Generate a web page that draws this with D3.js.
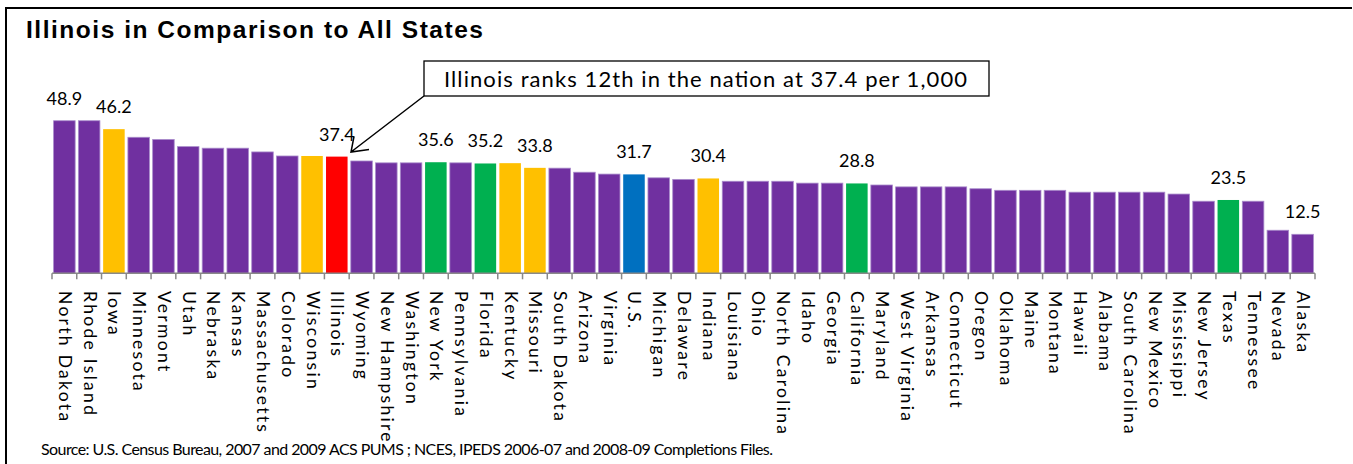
<!DOCTYPE html>
<html>
<head>
<meta charset="utf-8">
<script src="https://cdn.jsdelivr.net/npm/d3@7"></script>
<style>
  body { margin: 0; background: #fff; }
  svg { display: block; }
</style>
</head>
<body>
<div id="canvas"></div>
<script>
// data
const states = ["North Dakota", "Rhode Island", "Iowa", "Minnesota", "Vermont", "Utah", "Nebraska", "Kansas",
  "Massachusetts", "Colorado", "Wisconsin", "Illinois", "Wyoming", "New Hampshire", "Washington", "New York",
  "Pennsylvania", "Florida", "Kentucky", "Missouri", "South Dakota", "Arizona", "Virginia", "U.S.", "Michigan",
  "Delaware", "Indiana", "Louisiana", "Ohio", "North Carolina", "Idaho", "Georgia", "California", "Maryland",
  "West Virginia", "Arkansas", "Connecticut", "Oregon", "Oklahoma", "Maine", "Montana", "Hawaii", "Alabama",
  "South Carolina", "New Mexico", "Mississippi", "New Jersey", "Texas", "Tennessee", "Nevada", "Alaska"];
const values = [48.9, 48.9, 46.2, 43.6, 42.9, 40.6, 40.1, 40.1,
  38.9, 37.6, 37.6, 37.4, 36.0, 35.4, 35.4, 35.6,
  35.4, 35.2, 35.3, 33.8, 33.7, 32.4, 31.8, 31.7, 30.6,
  30.1, 30.4, 29.5, 29.5, 29.5, 28.9, 28.9, 28.8, 28.3,
  27.7, 27.7, 27.7, 27.1, 26.6, 26.6, 26.6, 26.0, 26.0,
  26.0, 26.0, 25.4, 23.1, 23.5, 23.1, 13.8, 12.5];
const goldStates = ["Iowa", "Wisconsin", "Kentucky", "Missouri", "Indiana"];
const greenStates = ["New York", "Florida", "California", "Texas"];
const labelled = ["North Dakota", "Iowa", "Illinois", "New York", "Florida", "Missouri", "U.S.",
  "Indiana", "California", "Texas", "Alaska"];

const title = "Illinois in Comparison to All States";
const note = "Illinois ranks 12th in the nation at 37.4 per 1,000";
const source = "Source:  U.S. Census Bureau, 2007 and 2009 ACS PUMS ; NCES, IPEDS  2006-07 and 2008-09 Completions Files.";

const data = states.map((s, i) => ({ name: s, value: values[i] }));

const width = 1353;
const height = 464;
const font = "Lato, 'Open Sans', sans-serif";

const svg = d3.select("#canvas").append("svg")
  .attr("width", width)
  .attr("height", height);

// frame
svg.append("line").attr("x1", 5).attr("x2", 1352).attr("y1", 8).attr("y2", 8)
  .attr("stroke", "#000").attr("stroke-width", 2);
svg.append("line").attr("x1", 6).attr("x2", 6).attr("y1", 8).attr("y2", height)
  .attr("stroke", "#000").attr("stroke-width", 2);

svg.append("text")
  .attr("x", 26).attr("y", 38)
  .attr("textLength", 457).attr("lengthAdjust", "spacing")
  .style("font-family", "'Liberation Sans', Arial, sans-serif")
  .style("font-weight", "bold")
  .style("font-size", "24.5px")
  .text(title);

const x = d3.scaleBand()
  .domain(states)
  .range([52, 1315])
  .paddingInner(0.13)
  .paddingOuter(0.065);

const y = d3.scaleLinear()
  .domain([0, 60])
  .range([273.3, 86.1]);

const color = d => {
  if (d.name === "Illinois") return "#FF0000";
  if (d.name === "U.S.") return "#0070C0";
  if (goldStates.includes(d.name)) return "#FFC000";
  if (greenStates.includes(d.name)) return "#00B050";
  return "#7030A0";
};

const g = svg.append("g");

g.selectAll("rect").data(data).enter().append("rect")
  .attr("x", d => x(d.name))
  .attr("y", d => y(d.value))
  .attr("width", x.bandwidth())
  .attr("height", d => y(0) - y(d.value))
  .style("fill", color)
  .style("stroke", d => color(d) === "#7030A0" ? "#A98BCB" : "none")
  .style("stroke-width", 0.8);

// axis line + ticks at category boundaries
const step = x.step();
const x0 = x.range()[0];
g.append("line")
  .attr("x1", x0).attr("x2", x.range()[1])
  .attr("y1", y(0)).attr("y2", y(0))
  .attr("stroke", "#898989").attr("stroke-width", 1.5);
g.selectAll(".tick").data(d3.range(states.length + 1)).enter().append("line")
  .attr("x1", k => x0 + k * step).attr("x2", k => x0 + k * step)
  .attr("y1", y(0)).attr("y2", y(0) + 6)
  .attr("stroke", "#898989").attr("stroke-width", 1.5);

// category labels
g.selectAll(".cat").data(data).enter().append("text")
  .attr("transform", d => `translate(${x(d.name) + x.bandwidth() / 2 - 5.5},291) rotate(90)`)
  .style("font-family", font)
  .style("font-size", "17.5px")
  .style("letter-spacing", "2.3px")
  .text(d => d.name);

// value labels
g.selectAll(".val").data(data.filter(d => labelled.includes(d.name))).enter().append("text")
  .attr("x", d => x(d.name) + x.bandwidth() / 2)
  .attr("y", d => y(d.value) - 16)
  .attr("text-anchor", "middle")
  .style("font-family", font)
  .style("font-size", "18px")
  .text(d => d.value.toFixed(1));

// callout
svg.append("rect")
  .attr("x", 424).attr("y", 61).attr("width", 565).attr("height", 35)
  .attr("fill", "#fff").attr("stroke", "#000").attr("stroke-width", 1.3);
svg.append("text")
  .attr("x", 444).attr("y", 86.5)
  .attr("textLength", 523).attr("lengthAdjust", "spacing")
  .style("font-family", font)
  .style("font-size", "22px")
  .text(note);
svg.append("path")
  .attr("d", "M424,96 L351,152 M354,136.5 L351,152 L369,149.5")
  .attr("fill", "none").attr("stroke", "#000").attr("stroke-width", 1.5);

svg.append("text")
  .attr("x", 41).attr("y", 455)
  .attr("textLength", 732).attr("lengthAdjust", "spacing")
  .style("font-family", font)
  .style("font-size", "16px")
  .text(source);
</script>
</body>
</html>
